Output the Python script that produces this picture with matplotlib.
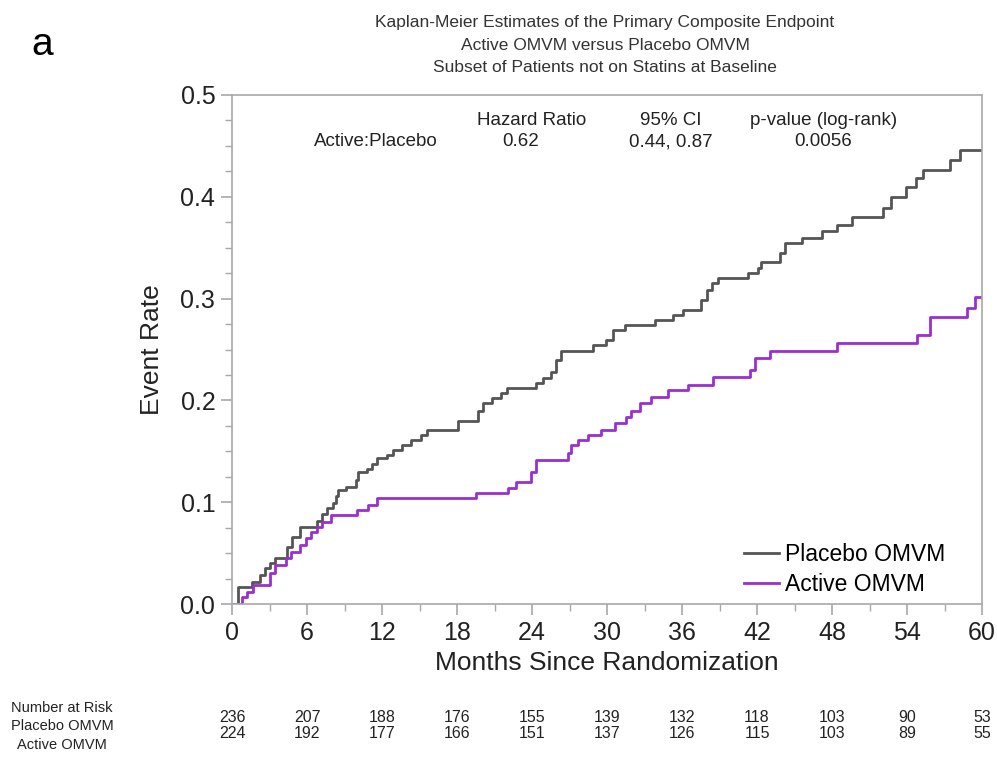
import numpy as np
import matplotlib
matplotlib.use('Agg')
import matplotlib.pyplot as plt
from matplotlib.ticker import MultipleLocator
import matplotlib.transforms as mtransforms

plt.rcParams['font.family'] = ['Liberation Sans', 'DejaVu Sans']

# Kaplan-Meier step data (months, cumulative event rate)
placebo_t = [0, 0.5, 1.6, 2.2, 2.6, 3.0, 3.4, 4.4, 4.8, 5.45, 6.8, 7.2, 7.6, 8.1, 8.3, 8.5,
             9.1, 9.9, 10.1, 10.8, 11.2, 11.6, 12.4, 12.9, 13.6, 14.3, 15.1, 15.6, 18.1,
             19.7, 20.1, 20.8, 21.5, 22.0, 24.3, 24.9, 25.5, 25.9, 26.3, 28.9, 29.9, 30.5,
             31.4, 33.8, 35.3, 36.1, 37.5, 38.0, 38.4, 38.9, 41.3, 42.1, 42.3, 43.8, 44.2,
             45.6, 47.2, 48.4, 49.6, 52.1, 52.7, 53.9, 54.7, 55.3, 57.4, 58.2, 60]
placebo_v = [0, .017, .022, .028, .035, .040, .045, .056, .066, .076, .082, .088, .094, .099,
             .106, .112, .115, .122, .130, .133, .138, .143, .146, .151, .156, .161, .166,
             .171, .180, .190, .197, .202, .207, .212, .217, .222, .228, .240, .249, .254,
             .259, .269, .274, .279, .284, .289, .299, .308, .315, .320, .325, .330, .336,
             .345, .355, .360, .366, .372, .380, .389, .400, .410, .418, .426, .436, .446, .446]

active_t = [0, 0.8, 1.2, 1.7, 3.0, 3.4, 4.3, 4.7, 5.4, 5.9, 6.3, 6.8, 7.2, 7.9, 10.0, 10.9,
            11.6, 19.5, 22.1, 22.7, 23.9, 24.3, 26.9, 27.1, 27.7, 28.5, 29.5, 30.6, 31.5,
            31.9, 32.6, 33.5, 34.9, 36.5, 38.5, 41.4, 41.8, 43.0, 48.4, 54.8, 55.8, 58.8,
            59.4, 60]
active_v = [0, .007, .012, .019, .030, .038, .045, .051, .058, .065, .071, .076, .081, .087,
            .092, .097, .104, .109, .114, .120, .130, .141, .148, .156, .161, .166, .171,
            .178, .184, .190, .197, .203, .210, .215, .223, .230, .242, .249, .256, .264,
            .282, .291, .302, .302]

risk_months = [0, 6, 12, 18, 24, 30, 36, 42, 48, 54, 60]
risk_placebo = [236, 207, 188, 176, 155, 139, 132, 118, 103, 90, 53]
risk_active = [224, 192, 177, 166, 151, 137, 126, 115, 103, 89, 55]

placebo_color = '#555555'
active_color = '#9a2fd0'
frame_color = '#a8a8a8'

fig = plt.figure(figsize=(9.97, 7.64), dpi=100)
ax = fig.add_axes([232/997, 1 - 604/764, 750/997, 509/764])

ax.step(placebo_t, placebo_v, where='post', color=placebo_color, lw=2, label='Placebo OMVM')
ax.step(active_t, active_v, where='post', color=active_color, lw=2, label='Active OMVM')

ax.set_xlim(0, 60)
ax.set_ylim(0, 0.5)
ax.xaxis.set_major_locator(MultipleLocator(6))
ax.xaxis.set_minor_locator(MultipleLocator(3))
ax.yaxis.set_major_locator(MultipleLocator(0.1))
ax.yaxis.set_minor_locator(MultipleLocator(0.025))
ax.yaxis.set_major_formatter(plt.FormatStrFormatter('%.1f'))
ax.tick_params(which='major', length=8, width=1.2, color=frame_color, labelsize=18,
               labelcolor='#222222', pad=4)
ax.tick_params(which='minor', length=5, width=1, color=frame_color)
for s in ax.spines.values():
    s.set_color(frame_color)
    s.set_linewidth(1.2)

ax.set_xlabel('Months Since Randomization', fontsize=19, color='#222222')
ax.set_ylabel('Event Rate', fontsize=19, color='#222222')
ax.xaxis.set_label_coords(0.5, (604 - 651) / 509)
ax.yaxis.set_label_coords((164 - 232) / 750, 0.5)

leg = ax.legend(loc='lower right', frameon=False, fontsize=16.5, handlelength=1.55,
                handletextpad=0.25, labelspacing=0.3, borderpad=0, borderaxespad=0,
                bbox_to_anchor=((945 - 232) / 750, (604 - 596) / 509))

# hazard ratio box
st = dict(fontsize=13.5, ha='center', va='center', color='#222222')
ax.text(24.0, 0.475, 'Hazard Ratio', **st)
ax.text(35.1, 0.475, '95% CI', **st)
ax.text(47.3, 0.475, 'p-value (log-rank)', **st)
ax.text(11.5, 0.454, 'Active:Placebo', **st)
ax.text(23.1, 0.454, '0.62', **st)
ax.text(35.1, 0.454, '0.44, 0.87', **st)
ax.text(47.3, 0.454, '0.0056', **st)

# titles
tt = dict(fontsize=12.5, ha='center', va='center', color='#333333')
fig.text(605/997, 1 - 23/764, 'Kaplan-Meier Estimates of the Primary Composite Endpoint', **tt)
fig.text(605/997, 1 - 45/764, 'Active OMVM versus Placebo OMVM', **tt)
fig.text(605/997, 1 - 68/764, 'Subset of Patients not on Statins at Baseline', **tt)
fig.text(42/997, 1 - 45/764, 'a', fontsize=28, ha='center', va='center')

# number at risk table
rt = dict(fontsize=10.5, ha='center', va='center', color='#222222')
fig.text(62/997, 1 - 708/764, 'Number at Risk', **rt)
fig.text(62/997, 1 - 726/764, 'Placebo OMVM', **rt)
fig.text(62/997, 1 - 745/764, 'Active OMVM', **rt)
nt = dict(rt, fontsize=11.5)
trans = mtransforms.blended_transform_factory(ax.transData, fig.transFigure)
for m, p, a in zip(risk_months, risk_placebo, risk_active):
    ax.text(m, 1 - 717/764, str(p), transform=trans, clip_on=False, **nt)
    ax.text(m, 1 - 734/764, str(a), transform=trans, clip_on=False, **nt)

fig.savefig('out.png', dpi=100)
